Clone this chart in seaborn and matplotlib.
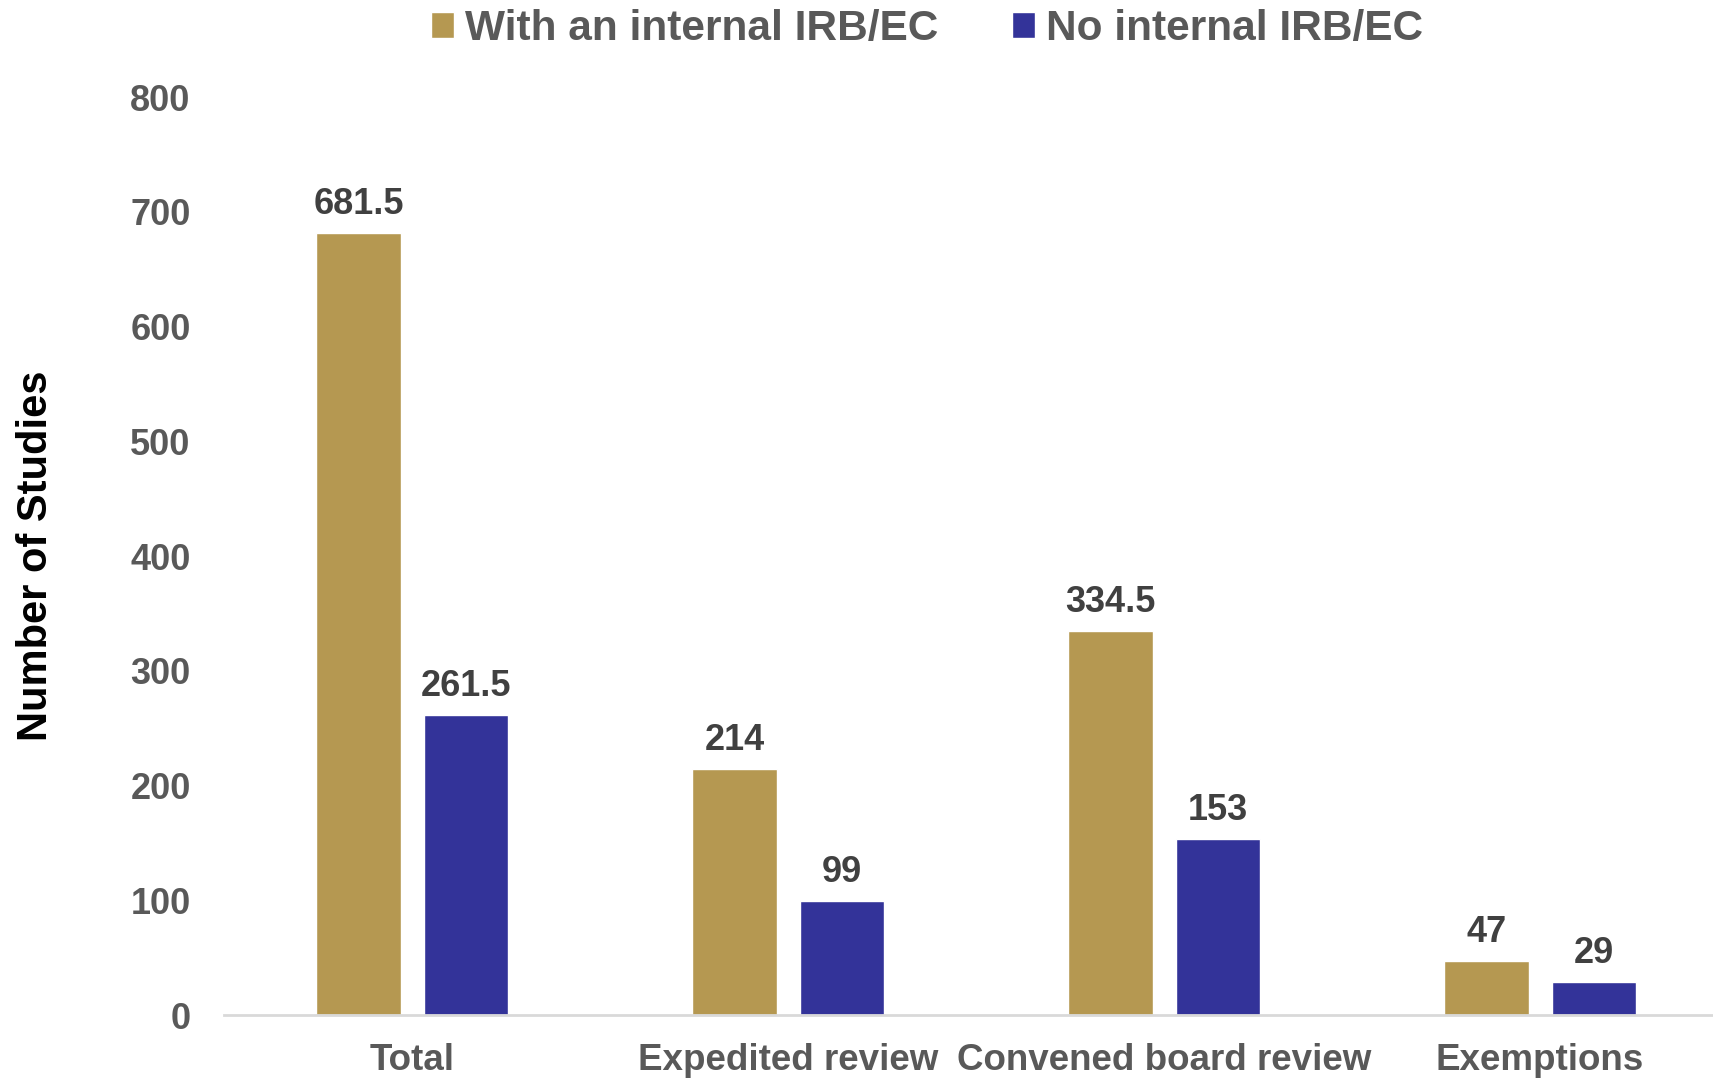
import pandas as pd
import seaborn as sns
import matplotlib.pyplot as plt

categories = ["Total", "Expedited review", "Convened board review", "Exemptions"]
groups = ["With an internal IRB/EC", "No internal IRB/EC"]
with_irb = [681.5, 214, 334.5, 47]
no_irb = [261.5, 99, 153, 29]
colors = ["#B59851", "#333399"]

df = pd.DataFrame({
    "Category": categories * 2,
    "Group": [groups[0]] * len(categories) + [groups[1]] * len(categories),
    "Studies": with_irb + no_irb,
})

sns.set_style("white")
plt.rcParams["font.family"] = ["Liberation Sans", "DejaVu Sans"]
plt.rcParams["font.weight"] = "bold"

fig = plt.figure(figsize=(17.13, 10.78), dpi=100)
ax = fig.add_axes([0.1308, 0.0584, 0.878, 0.8516])

sns.barplot(data=df, x="Category", y="Studies", hue="Group", palette=colors,
            width=0.57, gap=0.214, saturation=1, ax=ax)

for cont in ax.containers:
    ax.bar_label(cont, labels=[f"{b.get_height():g}" for b in cont], padding=8,
                 fontsize=26, fontweight="bold", color="#404040")

ax.set_ylim(0, 800)
ax.set_xlim(-0.5, 3.5)
ax.set_yticks(range(0, 801, 100))
ax.tick_params(axis="y", length=0, pad=24, labelsize=26, labelcolor="#595959")
ax.tick_params(axis="x", length=0, pad=20, labelsize=26.5, labelcolor="#595959")
for lab in ax.get_xticklabels() + ax.get_yticklabels():
    lab.set_fontweight("bold")

ax.set_xlabel("")
ax.set_ylabel("Number of Studies", fontsize=30, fontweight="bold", color="black")
ax.yaxis.set_label_coords(-0.112, 0.5)

for side in ["top", "right", "left"]:
    ax.spines[side].set_visible(False)
ax.spines["bottom"].set_color("#D9D9D9")
ax.spines["bottom"].set_linewidth(2)

ax.legend(loc="center", bbox_to_anchor=(0.541, 0.973), bbox_transform=fig.transFigure,
          ncol=2, frameon=False, handlelength=0.55, handleheight=0.55, handletextpad=0.25,
          columnspacing=1.75, prop={"size": 30.5, "weight": "bold"}, labelcolor="#595959")

fig.savefig("out.png", dpi=100)
